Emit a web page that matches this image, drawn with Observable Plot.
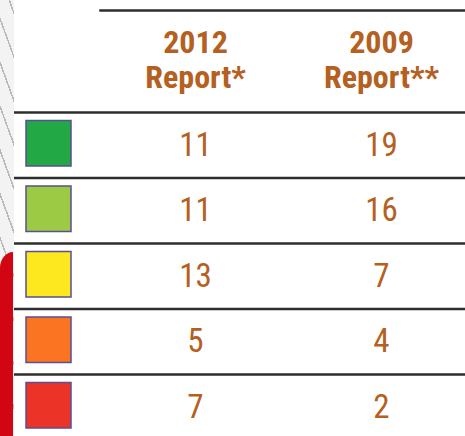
<!DOCTYPE html>
<html>
<head>
<meta charset="utf-8">
<script src="https://cdn.jsdelivr.net/npm/d3@7"></script>
<script src="https://cdn.jsdelivr.net/npm/@observablehq/plot@0.6"></script>
<style>
  html, body { margin: 0; padding: 0; background: #fff; }
  #wrap { position: relative; width: 465px; height: 436px; overflow: hidden; }
  #strip {
    position: absolute; left: 0; top: 0; width: 14px; height: 436px;
    background-color: #f3f3f3;
    background-image: repeating-linear-gradient(70deg, rgba(0,0,0,0) 0 7px, #b9b9b9 7px 8.5px, rgba(0,0,0,0) 8.5px 15px);
  }
  #red {
    position: absolute; left: 0; top: 252px; width: 13px; height: 190px;
    background: #d10612; border-top-left-radius: 13px 16px;
  }
  #chart { position: absolute; left: 0; top: 0; }
</style>
</head>
<body>
<div id="wrap"><div id="strip"></div><div id="red"></div><div id="chart"></div></div>
<script>
// Data
const categories = ["Dark green", "Light green", "Yellow", "Orange", "Red"];
const categoryColors = ["#22a845", "#9cca45", "#fde820", "#fa7421", "#eb3328"];
const columns = ["2012", "2009"];
const columnYears = ["2012", "2009"];
const columnNames = ["Report*", "Report**"];
const report2012 = [11, 11, 13, 5, 7];
const report2009 = [19, 16, 7, 4, 2];

const rows = categories.map((c, i) => ({category: c, i}));
const cells = [];
categories.forEach((c, i) => {
  cells.push({i, column: columns[0], value: report2012[i]});
  cells.push({i, column: columns[1], value: report2009[i]});
});
const headers = columns.map((c, j) => ({column: c, year: columnYears[j], name: columnNames[j]}));

const textColor = "#b5601f";
const font = "'Liberation Sans Narrow', 'Arial Narrow', 'Roboto Condensed', sans-serif";

const plot = Plot.plot({
  width: 465,
  height: 436,
  marginTop: 10,
  marginRight: 0,
  marginBottom: 0,
  marginLeft: 0,
  style: {background: "transparent", overflow: "visible"},
  x: {type: "band", domain: columns, range: [102, 474], padding: 0, axis: null},
  y: {type: "linear", domain: [0, categories.length], range: [112, 439.5], axis: null},
  color: {type: "ordinal", domain: categories, range: categoryColors},
  marks: [
    Plot.frame({anchor: "top", stroke: "#2e2e2e", strokeWidth: 2.5, insetLeft: 100}),
    Plot.ruleY(d3.range(categories.length), {stroke: "#2e2e2e", strokeWidth: 2.5, insetLeft: 14}),
    Plot.rect(rows, {
      y1: "i", y2: d => d.i + 1, fill: "category",
      stroke: "#5a4f92", strokeWidth: 1.5,
      insetLeft: 26, insetRight: 394, insetTop: 8.5, insetBottom: 11.5
    }),
    Plot.text(headers, {
      x: "column", y: () => 0, text: "year",
      lineAnchor: "bottom", dy: -60,
      fill: textColor, fontFamily: font, fontWeight: "bold", fontSize: 32
    }),
    Plot.text(headers, {
      x: "column", y: () => 0, text: "name",
      lineAnchor: "bottom", dy: -25,
      fill: textColor, fontFamily: font, fontWeight: "bold", fontSize: 32
    }),
    Plot.text(cells, {
      x: "column", y: d => d.i + 0.5, text: d => String(d.value),
      fill: textColor, fontFamily: font, fontSize: 33
    })
  ]
});
document.getElementById("chart").appendChild(plot);
</script>
</body>
</html>
